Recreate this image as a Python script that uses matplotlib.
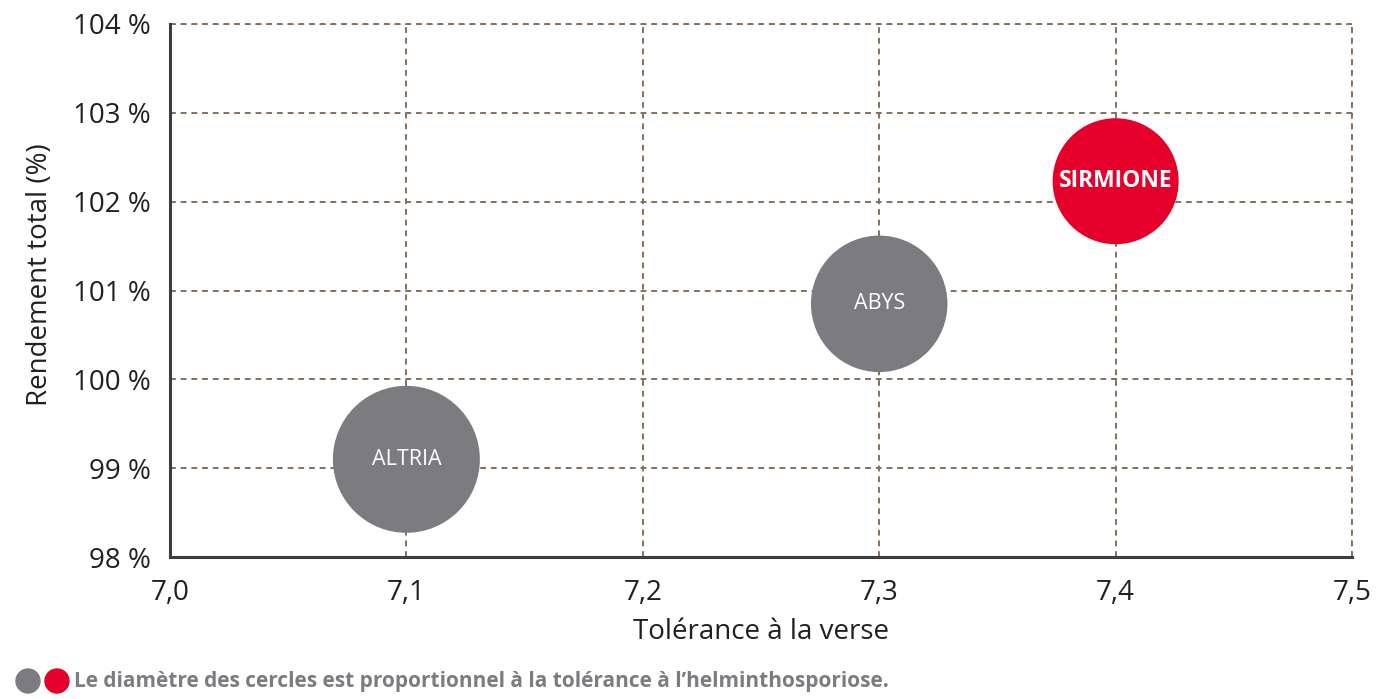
import matplotlib.pyplot as plt
from matplotlib.patches import Ellipse
from matplotlib.ticker import FuncFormatter

# data
varieties = ['ALTRIA', 'ABYS', 'SIRMIONE']
verse = [7.1, 7.3, 7.4]                 # tolérance à la verse
rendement = [99.1, 100.85, 102.23]      # rendement total (%)
helmintho = [7.0, 6.5, 6.0]             # tolérance à l'helminthosporiose -> diameter
bubble_colors = ['#7c7b80', '#7c7b80', '#e4002b']
label_weights = ['normal', 'normal', 'bold']

x_ticks = [7.0, 7.1, 7.2, 7.3, 7.4, 7.5]
y_ticks = [98, 99, 100, 101, 102, 103, 104]

plt.rcParams['font.family'] = ['Open Sans', 'DejaVu Sans']

dpi = 100
fig = plt.figure(figsize=(13.76, 6.99), dpi=dpi)
ax = fig.add_axes([0.1235, 0.2031, 0.8591, 0.7626])

# diameter in pixels proportional to helminthosporiose tolerance
px_per_unit = 21.0
sizes = [(h * px_per_unit * 72 / dpi) ** 2 for h in helmintho]
ax.scatter(verse, rendement, s=sizes, c=bubble_colors, edgecolors='none', zorder=3, clip_on=False)

for name, x, y, w in zip(varieties, verse, rendement, label_weights):
    ax.text(x, y, name, color='white', ha='center', va='center',
            fontsize=15.5 if w == 'normal' else 16.5, fontweight=w, zorder=4)

ax.set_xlim(7.0, 7.5)
ax.set_ylim(98, 104)
ax.set_xticks(x_ticks)
ax.set_yticks(y_ticks)
ax.xaxis.set_major_formatter(FuncFormatter(lambda v, p: ('%.1f' % v).replace('.', ',')))
ax.yaxis.set_major_formatter(FuncFormatter(lambda v, p: '%d %%' % round(v)))
ax.tick_params(length=0, labelsize=20, labelcolor='#231f20', pad=14)
ax.tick_params(axis='x', pad=16)

grid_color = '#85705a'
ax.grid(True, color=grid_color, linestyle=(0, (3, 2.5)), linewidth=1.4, zorder=0)
ax.set_axisbelow(True)
for side in ['top', 'right']:
    ax.spines[side].set_visible(False)
for side in ['left', 'bottom']:
    ax.spines[side].set_color('#3d3d3d')
    ax.spines[side].set_linewidth(2.2)

# top and right grid lines at the edges
ax.axhline(104, color=grid_color, linestyle=(0, (3, 2.5)), linewidth=1.4, zorder=0, clip_on=False)
ax.axvline(7.5, color=grid_color, linestyle=(0, (3, 2.5)), linewidth=1.4, zorder=0, clip_on=False)

ax.set_xlabel('Tolérance à la verse', fontsize=20, color='#231f20', labelpad=8)
ax.set_ylabel('Rendement total (%)', fontsize=20, color='#231f20')
ax.yaxis.set_label_coords(-0.098, 0.53)

# footnote with the two little circles
fig.add_artist(Ellipse((28 / 1376, 1 - 681 / 699), 24 / 1376, 24 / 699,
                       transform=fig.transFigure, color='#7c7b80'))
fig.add_artist(Ellipse((57 / 1376, 1 - 681 / 699), 24 / 1376, 24 / 699,
                       transform=fig.transFigure, color='#e4002b'))
fig.text(74 / 1376, 1 - 681 / 699, 'Le diamètre des cercles est proportionnel à la tolérance à l\u2019helminthosporiose.',
         fontsize=15, fontweight='bold', color='#7c7b80', va='center', ha='left')

fig.savefig('out.png', dpi=dpi)
